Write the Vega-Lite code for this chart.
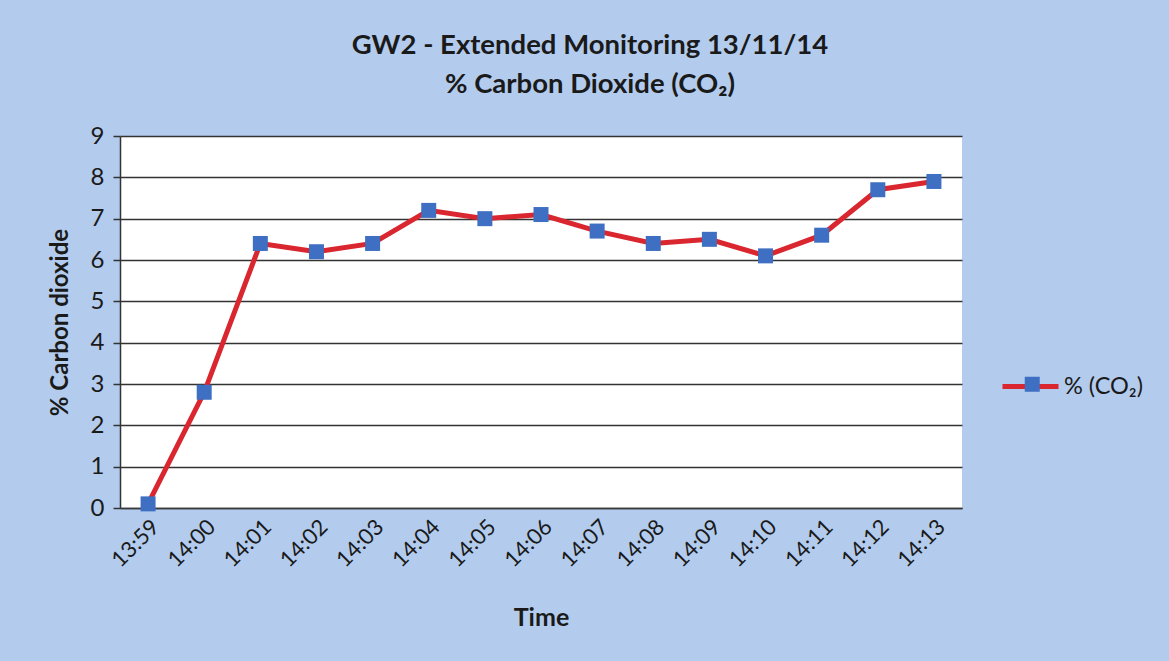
{
  "$schema": "https://vega.github.io/schema/vega-lite/v6.json",
  "width": 842,
  "height": 372,
  "autosize": {"type": "none"},
  "padding": {"left": 120, "top": 136, "right": 207, "bottom": 153},
  "background": "#b3ccee",
  "config": {"font": "Lato", "view": {"fill": "white", "stroke": null}},
  "title": {
    "text": ["GW2 - Extended Monitoring 13/11/14", "% Carbon Dioxide (CO₂)"],
    "fontSize": 27.5,
    "fontWeight": "bold",
    "color": "#1a1a1a",
    "anchor": "middle",
    "frame": "group",
    "dx": 49,
    "offset": 26,
    "lineHeight": 39
  },
  "data": {
    "values": [
      {"time": "13:59", "co2": 0.1, "series": "% (CO₂)"},
      {"time": "14:00", "co2": 2.8, "series": "% (CO₂)"},
      {"time": "14:01", "co2": 6.4, "series": "% (CO₂)"},
      {"time": "14:02", "co2": 6.2, "series": "% (CO₂)"},
      {"time": "14:03", "co2": 6.4, "series": "% (CO₂)"},
      {"time": "14:04", "co2": 7.2, "series": "% (CO₂)"},
      {"time": "14:05", "co2": 7.0, "series": "% (CO₂)"},
      {"time": "14:06", "co2": 7.1, "series": "% (CO₂)"},
      {"time": "14:07", "co2": 6.7, "series": "% (CO₂)"},
      {"time": "14:08", "co2": 6.4, "series": "% (CO₂)"},
      {"time": "14:09", "co2": 6.5, "series": "% (CO₂)"},
      {"time": "14:10", "co2": 6.1, "series": "% (CO₂)"},
      {"time": "14:11", "co2": 6.6, "series": "% (CO₂)"},
      {"time": "14:12", "co2": 7.7, "series": "% (CO₂)"},
      {"time": "14:13", "co2": 7.9, "series": "% (CO₂)"}
    ]
  },
  "encoding": {
    "x": {
      "field": "time",
      "type": "ordinal",
      "sort": null,
      "scale": {"type": "point", "padding": 0.5},
      "axis": {
        "title": "Time",
        "labelAngle": -45,
        "labelAlign": "right",
        "labelBaseline": "top",
        "labelFontSize": 22,
        "labelColor": "#1a1a1a",
        "labelPadding": 8,
        "ticks": false,
        "grid": false,
        "domainColor": "#3a3a3a",
        "domainWidth": 1.5,
        "titleFontSize": 25,
        "titleFontWeight": "bold",
        "titleColor": "#1a1a1a",
        "titlePadding": 35
      }
    },
    "y": {
      "field": "co2",
      "type": "quantitative",
      "scale": {"domain": [0, 9], "nice": false},
      "axis": {
        "title": "% Carbon dioxide",
        "values": [0, 1, 2, 3, 4, 5, 6, 7, 8, 9],
        "grid": true,
        "gridColor": "#333333",
        "gridWidth": 1.5,
        "gridOpacity": 1,
        "tickSize": 7,
        "tickColor": "#333333",
        "tickWidth": 1.5,
        "domainColor": "#333333",
        "domainWidth": 1.5,
        "labelFontSize": 24,
        "labelColor": "#1a1a1a",
        "labelPadding": 9,
        "titleFontSize": 24,
        "titleFontWeight": "bold",
        "titleColor": "#1a1a1a",
        "titlePadding": 18
      }
    }
  },
  "layer": [
    {
      "mark": {"type": "line", "strokeWidth": 5},
      "encoding": {
        "stroke": {
          "field": "series",
          "type": "nominal",
          "scale": {"range": ["#d9262f"]},
          "legend": {
            "orient": "none",
            "legendX": 880,
            "legendY": 220,
            "title": null,
            "symbolType": "stroke",
            "symbolSize": 3136,
            "symbolStrokeWidth": 5,
            "labelFontSize": 23.5,
            "labelColor": "#1a1a1a",
            "labelOffset": 3
          }
        }
      }
    },
    {
      "mark": {"type": "point", "shape": "square", "filled": true, "size": 225, "opacity": 1},
      "encoding": {
        "fill": {
          "field": "series",
          "type": "nominal",
          "scale": {"range": ["#3f6fc2"]},
          "legend": {
            "orient": "none",
            "legendX": 900.5,
            "legendY": 236.5,
            "title": null,
            "symbolType": "square",
            "symbolSize": 225,
            "symbolStrokeWidth": 0,
            "symbolOpacity": 1,
            "labelFontSize": 23.5,
            "labelExpr": "''"
          }
        }
      }
    }
  ]
}
